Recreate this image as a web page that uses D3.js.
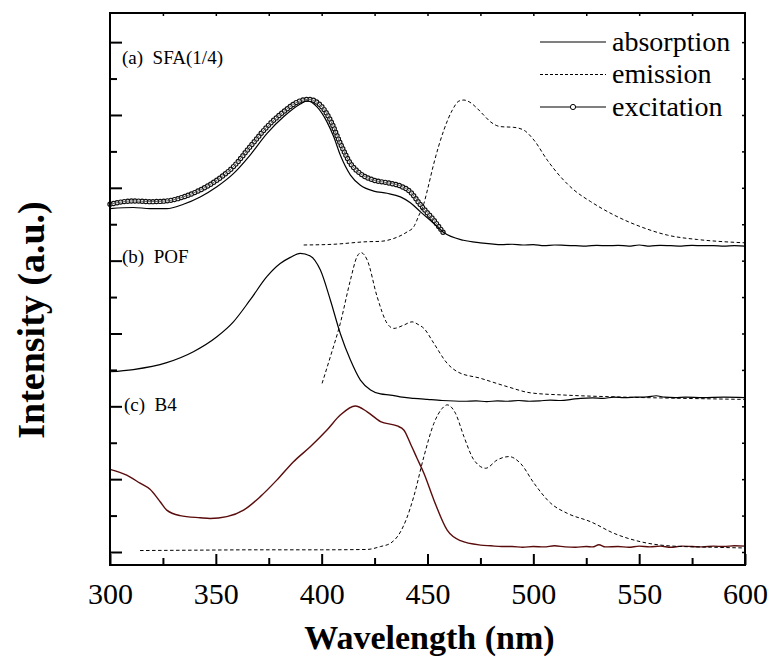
<!DOCTYPE html>
<html>
<head>
<meta charset="utf-8">
<script src="https://cdn.jsdelivr.net/npm/d3@7/dist/d3.min.js"></script>
<style>
  body { margin: 0; background: #fff; }
</style>
</head>
<body>
<svg id="chart"></svg>
<script>
var w = 771;
var h = 659;
var margin = {top: 13, right: 26, bottom: 94, left: 110};
var serif = '"Liberation Serif", "Times New Roman", Times, serif';

// x range and tick labels
var xTicks = [300, 350, 400, 450, 500, 550, 600];
var yTicks = [0, 1, 2, 3, 4, 5, 6, 7, 8, 9, 10, 11, 12, 13, 14];

// (a) SFA(1/4)
var sfaAbs = [[300, 9.43], [311, 9.46], [318.9, 9.43], [326.8, 9.43], [334.7, 9.55], [342.6, 9.75],
  [350.5, 10.03], [358.3, 10.39], [366.2, 10.90], [374.1, 11.49], [382, 11.95], [389.9, 12.30],
  [393.1, 12.39], [397.8, 12.22], [402.5, 11.81], [405.7, 11.40], [408.8, 10.90], [413.6, 10.35],
  [418.3, 10.07], [424.6, 9.91], [430.9, 9.85], [437.2, 9.75], [441.9, 9.59], [446.7, 9.34],
  [453, 9.02], [457.7, 8.77], [467, 8.56], [475, 8.49], [480, 8.46], [485, 8.44], [490, 8.45],
  [495, 8.43], [500, 8.44], [505, 8.41], [510, 8.43], [515, 8.42], [520, 8.41], [525, 8.40],
  [530, 8.42], [535, 8.41], [540, 8.42], [545, 8.40], [550, 8.43], [555, 8.40], [560, 8.42],
  [565, 8.41], [570, 8.40], [575, 8.42], [580, 8.41], [585, 8.41], [590, 8.40], [595, 8.41], [600, 8.40]];
var sfaExc = [[300, 9.55], [311, 9.64], [318.9, 9.62], [326.8, 9.64], [334.7, 9.75], [342.6, 9.94],
  [350.5, 10.21], [358.3, 10.58], [366.2, 11.13], [374.1, 11.67], [382, 12.09], [389.9, 12.39],
  [393.8, 12.43], [399.4, 12.27], [404.1, 11.86], [408.8, 11.22], [413.6, 10.67], [418.3, 10.39],
  [424.6, 10.21], [430.9, 10.14], [437.2, 10.05], [441.9, 9.89], [446.7, 9.53], [453, 9.11], [457.7, 8.75]];
var sfaEm = [[391.5, 8.43], [405.7, 8.45], [421.5, 8.52], [427.8, 8.53], [434.1, 8.61], [440.4, 8.79],
  [443.5, 8.93], [446, 9.25], [448.3, 9.57], [450, 9.95], [453, 10.67], [457.7, 11.58], [461.7, 12.13],
  [464.8, 12.38], [467.2, 12.41], [470, 12.35], [473.5, 12.18], [476.5, 12.0], [479.8, 11.81],
  [484.5, 11.68], [490.8, 11.66], [495.6, 11.58], [500.3, 11.31], [506.6, 10.76], [512.9, 10.30],
  [519.2, 9.94], [527.1, 9.62], [538.2, 9.25], [550.8, 8.93], [563.4, 8.70], [577.6, 8.58],
  [590, 8.52], [600, 8.49]];

// (b) POF
var pofAbs = [[300, 4.95], [311, 5.01], [326.8, 5.20], [339.4, 5.50], [350.5, 5.91], [358.3, 6.32],
  [366.2, 6.92], [374.1, 7.56], [380.4, 7.92], [385.2, 8.09], [389.9, 8.20], [394.6, 8.13],
  [399.4, 7.74], [404.1, 6.92], [408.8, 6.00], [413.6, 5.27], [418.3, 4.72], [423.1, 4.45],
  [427.8, 4.34], [432.5, 4.31], [437, 4.26], [443.5, 4.22], [450, 4.19], [457, 4.16], [467.2, 4.14],
  [473, 4.15], [478, 4.13], [483, 4.15], [488, 4.14], [493, 4.16], [498, 4.14], [503, 4.15],
  [508, 4.17], [513, 4.16], [518, 4.19], [522.4, 4.22], [528, 4.23], [533, 4.22], [538, 4.25],
  [543, 4.24], [548, 4.25], [553.9, 4.26], [558, 4.29], [562, 4.25], [567, 4.24], [572, 4.25],
  [580, 4.24], [590, 4.25], [600, 4.24]];
var pofEm = [[400.2, 4.63], [404.1, 5.36], [408.8, 6.28], [413.6, 7.47], [416.7, 8.11], [418.6, 8.22],
  [421.5, 8.02], [426.2, 7.01], [430.9, 6.28], [434.1, 6.14], [438.8, 6.23], [442.7, 6.32],
  [445.5, 6.25], [448.3, 6.14], [453, 5.73], [459.3, 5.18], [464.1, 4.95], [475, 4.77],
  [487.7, 4.54], [498.7, 4.37], [514.5, 4.31], [538.2, 4.26], [569.7, 4.22], [600, 4.19]];

// (c) B4
var b4Abs = [[300, 2.27], [307.9, 2.11], [314.2, 1.89], [318.9, 1.72], [323.7, 1.38], [326.8, 1.15],
  [333.1, 1.00], [342.6, 0.94], [347.3, 0.92], [355.2, 0.97], [363.1, 1.15], [371, 1.52],
  [378.9, 1.98], [386.7, 2.48], [394.6, 2.89], [402.5, 3.35], [408.8, 3.76], [415.9, 4.01],
  [421.5, 3.85], [427.8, 3.58], [435.7, 3.46], [438.8, 3.35], [441.9, 2.98], [445, 2.58],
  [448.3, 2.16], [453, 1.43], [459.3, 0.60], [465.6, 0.31], [475, 0.19], [480, 0.17], [485, 0.15],
  [490, 0.15], [495, 0.13], [500, 0.15], [505, 0.14], [510, 0.17], [515, 0.14], [520, 0.13],
  [525, 0.15], [528, 0.14], [531, 0.20], [534, 0.14], [540, 0.15], [545, 0.13], [550, 0.16],
  [555, 0.14], [560, 0.16], [565, 0.13], [570, 0.16], [575, 0.15], [580, 0.14], [585, 0.16],
  [590, 0.15], [595, 0.17], [600, 0.16]];
var b4Em = [[314.2, 0.04], [340, 0.05], [370, 0.06], [400, 0.06], [421.5, 0.07], [427.8, 0.15],
  [432.5, 0.24], [437.2, 0.55], [440, 0.9], [443.5, 1.52], [448.3, 2.62], [453, 3.53], [456.9, 3.94],
  [459.3, 4.04], [463.2, 3.81], [467.2, 3.17], [471.9, 2.53], [477.5, 2.30], [483, 2.53],
  [488.5, 2.62], [494, 2.43], [500.3, 1.89], [508.2, 1.34], [516.1, 1.06], [527.1, 0.83],
  [538.2, 0.51], [550.8, 0.28], [566.5, 0.16], [585.4, 0.13], [600, 0.11]];

var panelLabels = [
  {text: '(a)  SFA(1/4)', x: 122, y: 64},
  {text: '(b)  POF', x: 122, y: 263},
  {text: '(c)  B4', x: 124, y: 411}
];
var legendItems = ['absorption', 'emission', 'excitation'];

var svg = d3.select('#chart').attr('width', w).attr('height', h);

var x = d3.scaleLinear().domain([300, 600]).range([margin.left, w - margin.right]);
var y = d3.scaleLinear().domain([-0.357, 14.8]).range([h - margin.bottom, margin.top]);

var line = d3.line()
  .x(function (d) { return x(d[0]); })
  .y(function (d) { return y(d[1]); })
  .curve(d3.curveMonotoneX);

var plot = svg.append('g');

// excitation: open circles along the curve
plot.append('path').attr('d', line(sfaExc))
  .attr('fill', 'none').attr('stroke', '#111').attr('stroke-width', 5.4)
  .attr('stroke-linecap', 'round').attr('stroke-dasharray', '0,3.6');
plot.append('path').attr('d', line(sfaExc))
  .attr('fill', 'none').attr('stroke', '#fff').attr('stroke-width', 3)
  .attr('stroke-linecap', 'round').attr('stroke-dasharray', '0,3.6');
plot.append('path').attr('d', line(sfaExc))
  .attr('fill', 'none').attr('stroke', '#000').attr('stroke-width', 0.6);

// absorption
[sfaAbs, pofAbs].forEach(function (s) {
  plot.append('path').attr('d', line(s))
    .attr('fill', 'none').attr('stroke', '#000').attr('stroke-width', 1.2);
});
plot.append('path').attr('d', line(b4Abs))
  .attr('fill', 'none').attr('stroke', '#5a0c0c').attr('stroke-width', 1.4);

// emission
[sfaEm, pofEm, b4Em].forEach(function (s) {
  plot.append('path').attr('d', line(s))
    .attr('fill', 'none').attr('stroke', '#000').attr('stroke-width', 1)
    .attr('stroke-dasharray', '3.5,2.5');
});

// Axes
var axisG = svg.append('g');
axisG.append('rect')
  .attr('x', x(300)).attr('y', margin.top)
  .attr('width', x(600) - x(300)).attr('height', h - margin.bottom - margin.top)
  .attr('fill', 'none').attr('stroke', '#000').attr('stroke-width', 2);

var xMinor = d3.range(325, 600, 50);
var xb = axisG.append('g').attr('transform', 'translate(0,' + (h - margin.bottom) + ')');
xb.call(d3.axisBottom(x).tickValues(xTicks).tickSizeInner(-11).tickSizeOuter(0).tickPadding(18)
  .tickFormat(d3.format('d')));
xb.append('g').call(d3.axisBottom(x).tickValues(xMinor).tickSizeInner(-7).tickSizeOuter(0)
  .tickFormat(''));
xb.selectAll('.domain').remove();
xb.selectAll('line').attr('stroke-width', 2);
xb.selectAll('text').attr('font-size', 30).attr('fill', '#000');

var xt = axisG.append('g').attr('transform', 'translate(0,' + margin.top + ')');
xt.call(d3.axisTop(x).tickValues(d3.range(325, 600, 25)).tickSizeInner(-3).tickSizeOuter(0).tickFormat(''));
xt.selectAll('.domain').remove();
xt.selectAll('line').attr('stroke-width', 1.5);

var yl = axisG.append('g').attr('transform', 'translate(' + margin.left + ',0)');
yl.call(d3.axisLeft(y).tickValues(yTicks.filter(function (d) { return d % 2 === 0; }))
  .tickSizeInner(-12).tickSizeOuter(0).tickFormat(''));
yl.append('g').call(d3.axisLeft(y).tickValues(yTicks.filter(function (d) { return d % 2 === 1; }))
  .tickSizeInner(-7).tickSizeOuter(0).tickFormat(''));
yl.selectAll('.domain').remove();
yl.selectAll('line').attr('stroke-width', 2);

var yr = axisG.append('g').attr('transform', 'translate(' + (w - margin.right) + ',0)');
yr.call(d3.axisRight(y).tickValues(yTicks).tickSizeInner(-3).tickSizeOuter(0).tickFormat(''));
yr.selectAll('.domain').remove();
yr.selectAll('line').attr('stroke-width', 1.5);

// Axis titles
svg.append('text')
  .attr('x', (x(300) + x(600)) / 2 + 2).attr('y', 649)
  .attr('text-anchor', 'middle').attr('font-size', 34).attr('font-weight', 'bold')
  .text('Wavelength (nm)');
svg.append('text')
  .attr('transform', 'translate(44,320) rotate(-90)')
  .attr('text-anchor', 'middle').attr('font-size', 38).attr('font-weight', 'bold')
  .text('Intensity (a.u.)');

// Panel labels
svg.selectAll('.plabel')
  .data(panelLabels)
  .enter()
  .append('text')
  .attr('class', 'plabel')
  .attr('x', function (d) { return d.x; })
  .attr('y', function (d) { return d.y; })
  .attr('font-size', 19)
  .style('white-space', 'pre')
  .text(function (d) { return d.text; });

// Legend
var lg = svg.append('g').attr('transform', 'translate(540,42)');
legendItems.forEach(function (name, i) {
  var yy = i * 32.5;
  var ln = lg.append('line').attr('x1', 0).attr('x2', 66).attr('y1', yy).attr('y2', yy)
    .attr('stroke', '#000').attr('stroke-width', 1.1);
  if (name === 'emission') ln.attr('stroke-dasharray', '3,2');
  if (name === 'excitation') {
    lg.append('circle').attr('cx', 33).attr('cy', yy).attr('r', 2.6)
      .attr('fill', '#fff').attr('stroke', '#000').attr('stroke-width', 1);
  }
  lg.append('text').attr('x', 72).attr('y', yy + 8.5).attr('font-size', 28).text(name);
});

svg.selectAll('text').style('font-family', serif).attr('fill', '#000');
</script>
</body>
</html>
